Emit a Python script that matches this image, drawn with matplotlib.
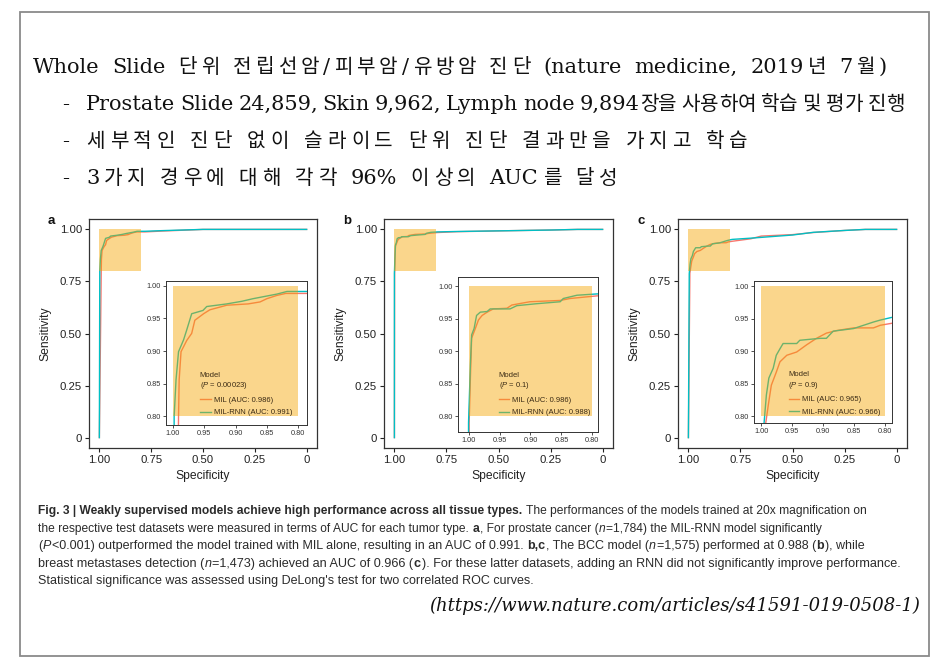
import matplotlib
matplotlib.use("Agg")
import matplotlib.pyplot as plt
from matplotlib.patches import Rectangle
from matplotlib.lines import Line2D
from matplotlib.colors import to_rgb

# =============== DATA ===============
TITLE = "Whole Slide 단위 전립선암/피부암/유방암 진단 (nature medicine, 2019년 7월)"
BULLETS = [
    "Prostate Slide 24,859, Skin 9,962, Lymph node 9,894장을 사용하여 학습 및 평가 진행",
    "세부적인 진단 없이 슬라이드 단위 진단 결과만을 가지고 학습",
    "3가지 경우에 대해 각각 96% 이상의 AUC를 달성",
]
URL = "(https://www.nature.com/articles/s41591-019-0508-1)"

PANELS = ["a", "b", "c"]
MODELS = ["MIL", "MIL-RNN"]
P_VALUES = ["0.00023", "0.1", "0.9"]
AUC_MIL = ["0.986", "0.986", "0.965"]
AUC_RNN = ["0.991", "0.988", "0.966"]

MAIN_TICKS = [1.0, 0.75, 0.5, 0.25, 0.0]
MAIN_TICKLABELS = ["1.00", "0.75", "0.50", "0.25", "0"]
INSET_TICKS = [1.0, 0.95, 0.9, 0.85, 0.8]
INSET_TICKLABELS = ["1.00", "0.95", "0.90", "0.85", "0.80"]

# ROC curves (specificity, sensitivity)
A_MIL_SPEC = [1.000, 0.991, 0.990, 0.987, 0.978, 0.970, 0.965, 0.951, 0.941, 0.914, 0.880, 0.861, 0.850, 0.834, 0.820, 0.780, 0.700, 0.600, 0.500, 0.000]
A_MIL_SENS = [0.000, 0.800, 0.856, 0.899, 0.916, 0.927, 0.947, 0.957, 0.963, 0.970, 0.972, 0.975, 0.980, 0.985, 0.988, 0.988, 0.992, 0.996, 1.000, 1.000]
A_RNN_SPEC = [1.000, 0.998, 0.995, 0.991, 0.983, 0.978, 0.970, 0.952, 0.946, 0.914, 0.890, 0.872, 0.834, 0.818, 0.780, 0.700, 0.600, 0.500, 0.000]
A_RNN_SENS = [0.000, 0.800, 0.856, 0.899, 0.917, 0.932, 0.957, 0.962, 0.968, 0.972, 0.976, 0.980, 0.987, 0.991, 0.991, 0.994, 0.997, 1.000, 1.000]

B_MIL_SPEC = [1.000, 0.999, 0.997, 0.995, 0.989, 0.984, 0.978, 0.970, 0.960, 0.938, 0.930, 0.901, 0.852, 0.836, 0.793, 0.700, 0.500, 0.250, 0.120, 0.000]
B_MIL_SENS = [0.000, 0.790, 0.859, 0.920, 0.935, 0.948, 0.955, 0.960, 0.965, 0.966, 0.971, 0.976, 0.978, 0.981, 0.985, 0.989, 0.993, 0.997, 1.000, 1.000]
B_RNN_SPEC = [1.000, 1.000, 0.997, 0.995, 0.991, 0.987, 0.981, 0.970, 0.965, 0.933, 0.922, 0.890, 0.852, 0.847, 0.825, 0.793, 0.700, 0.500, 0.250, 0.120, 0.000]
B_RNN_SENS = [0.000, 0.790, 0.879, 0.925, 0.935, 0.955, 0.960, 0.961, 0.965, 0.965, 0.970, 0.973, 0.976, 0.981, 0.986, 0.988, 0.990, 0.993, 0.997, 1.000, 1.000]

C_MIL_SPEC = [1.000, 0.993, 0.989, 0.984, 0.976, 0.970, 0.959, 0.943, 0.927, 0.911, 0.895, 0.878, 0.851, 0.819, 0.808, 0.790, 0.700, 0.650, 0.500, 0.400, 0.250, 0.150, 0.000]
C_MIL_SENS = [0.000, 0.790, 0.817, 0.848, 0.868, 0.884, 0.894, 0.899, 0.910, 0.920, 0.928, 0.932, 0.936, 0.936, 0.940, 0.943, 0.955, 0.968, 0.975, 0.985, 0.995, 1.000, 1.000]
C_RNN_SPEC = [1.000, 0.996, 0.992, 0.988, 0.981, 0.976, 0.970, 0.965, 0.943, 0.938, 0.905, 0.895, 0.884, 0.851, 0.835, 0.819, 0.808, 0.790, 0.700, 0.500, 0.400, 0.250, 0.150, 0.000]
C_RNN_SENS = [0.000, 0.787, 0.833, 0.859, 0.874, 0.894, 0.904, 0.912, 0.912, 0.917, 0.920, 0.920, 0.931, 0.935, 0.940, 0.945, 0.948, 0.952, 0.958, 0.973, 0.986, 0.995, 1.000, 1.000]

CURVES = [
    (A_MIL_SPEC, A_MIL_SENS, A_RNN_SPEC, A_RNN_SENS),
    (B_MIL_SPEC, B_MIL_SENS, B_RNN_SPEC, B_RNN_SENS),
    (C_MIL_SPEC, C_MIL_SENS, C_RNN_SPEC, C_RNN_SENS),
]

# =============== STYLE / LAYOUT ===============
W, H = 943, 660
MIL_COLOR = "#F8766D"
RNN_COLOR = "#00BFC4"
ZOOM_COLOR = (244 / 255, 164 / 255, 0.0)
ZOOM_ALPHA = 0.45
LATIN_KW = dict(family="DejaVu Serif", fontsize=15, color="#111")
HANGUL_KW = dict(family="Noto Sans CJK KR", fontsize=14.5, color="#111")
SANS = "Liberation Sans"
CAP_FONT = "Liberation Sans"
CAP_SIZE = 8.9
CAP_COLOR = "#2b2b2b"

# pixel boxes (x0, y0, x1, y1) of the plot panels
MAIN_BOX = [(89, 219, 317, 448), (384, 219, 613, 448), (678, 219, 907, 448)]
INSET_BOX = [(166, 281, 307, 425), (458, 277, 598, 432), (754, 281, 892, 423)]
INSET_XLIM = [(1.011, 0.786), (1.017, 0.791), (1.012, 0.789)]
INSET_YLIM = [(0.787, 1.007), (0.776, 1.014), (0.790, 1.008)]
LEGEND_ANCHOR = [(0.24, 0.06), (0.29, 0.10), (0.25, 0.05)]

# header lines: left x, right x, baseline y
HEAD_POS = [(33, 887, 73), (86, 905, 110), (86, 748, 147), (86, 617, 184)]
# caption lines: right end x (start is 38)
CAP_END = [869, 828, 869, 906, 534]

plt.rcParams["mathtext.fontset"] = "custom"
plt.rcParams["mathtext.it"] = "Liberation Sans:italic"
plt.rcParams["mathtext.rm"] = "Liberation Sans"

fig = plt.figure(figsize=(W / 100, H / 100), dpi=100)
fig.patch.set_facecolor("white")
renderer = fig.canvas.get_renderer()


def fx(x):
    return x / W


def fy(y):
    return 1 - y / H


def add_ax(box):
    x0, y0, x1, y1 = box
    return fig.add_axes([fx(x0), fy(y1), (x1 - x0) / W, (y1 - y0) / H])


def blend(c):
    # colour of a line seen through the translucent zoom box
    r = to_rgb(c)
    return tuple((1 - ZOOM_ALPHA) * a + ZOOM_ALPHA * b for a, b in zip(r, ZOOM_COLOR))


def text_width(s, **kw):
    t = fig.text(0, 0, s, **kw)
    w = t.get_window_extent(renderer).width
    t.remove()
    return w


def is_hangul(ch):
    return "\uac00" <= ch <= "\ud7a3"


def split_tokens(word):
    # each hangul syllable on its own, latin runs kept together
    out = []
    for ch in word:
        if is_hangul(ch) or not out or is_hangul(out[-1][0]):
            out.append(ch)
        else:
            out[-1] += ch
    return out


SPACE_W = text_width("x x", **LATIN_KW) - text_width("xx", **LATIN_KW)


def spread_line(x0, x1, yb, text):
    # distributed spacing, like the slide: extra room between syllables and words
    words = [split_tokens(w) for w in text.split(" ")]
    toks = []
    for w in words:
        toks.append([(t, HANGUL_KW if is_hangul(t[0]) else LATIN_KW) for t in w])
    widths = [[text_width(t, **kw) for t, kw in w] for w in toks]
    n_inner = sum(len(w) - 1 for w in toks)
    n_gaps = len(toks) - 1
    natural = sum(sum(w) for w in widths) + n_inner * 1.0 + n_gaps * SPACE_W
    extra = (x1 - x0 - natural) / (n_inner + 2 * n_gaps)
    x = x0
    for w, ws in zip(toks, widths):
        for j, ((t, kw), wd) in enumerate(zip(w, ws)):
            fig.text(fx(x), fy(yb), t, va="baseline", **kw)
            x += wd + (1.0 + extra if j < len(w) - 1 else 0)
        x += SPACE_W + 2 * extra


# slide frame
fig.add_artist(Rectangle((fx(20), fy(656)), (929 - 20) / W, (656 - 12) / H,
                         transform=fig.transFigure, fill=False, ec="#8a8a8a", lw=1.3))

# =============== HEADER TEXT ===============
x0, x1, yb = HEAD_POS[0]
spread_line(x0, x1, yb, TITLE)
for i, line in enumerate(BULLETS):
    x0, x1, yb = HEAD_POS[i + 1]
    fig.text(fx(62), fy(yb), "-", va="baseline", **LATIN_KW)
    spread_line(x0, x1, yb, line)

# =============== ROC PANELS ===============
for k, name in enumerate(PANELS):
    mil_x, mil_y, rnn_x, rnn_y = CURVES[k]

    ax = add_ax(MAIN_BOX[k])
    ax.plot(mil_x, mil_y, color=MIL_COLOR, lw=1.0, zorder=2)
    ax.plot(rnn_x, rnn_y, color=RNN_COLOR, lw=1.0, zorder=2)
    ax.add_patch(Rectangle((0.8, 0.8), 0.2, 0.2, color=ZOOM_COLOR, alpha=ZOOM_ALPHA, lw=0, zorder=3))
    ax.set_xlim(1.05, -0.05)
    ax.set_ylim(-0.05, 1.05)
    ax.set_xticks(MAIN_TICKS, MAIN_TICKLABELS)
    ax.set_yticks(MAIN_TICKS, MAIN_TICKLABELS)
    ax.tick_params(length=3, width=0.8, pad=2, labelsize=8.2, colors="#222")
    for lab in ax.get_xticklabels() + ax.get_yticklabels():
        lab.set_family(SANS)
    for sp in ax.spines.values():
        sp.set_color("#333")
        sp.set_linewidth(0.9)
    ax.set_xlabel("Specificity", family=SANS, fontsize=8.7, color="#222", labelpad=4)
    ax.set_ylabel("Sensitivity", family=SANS, fontsize=8.7, color="#222", labelpad=6)
    fig.text(fx(MAIN_BOX[k][0] - 41), fy(224), name, family=SANS, fontsize=9.5,
             weight="bold", color="#111")

    # zoomed inset
    ins = add_ax(INSET_BOX[k])
    ins.set_zorder(5)
    ins.set_facecolor("white")
    ins.plot(mil_x, mil_y, color=MIL_COLOR, lw=1.0, zorder=2)
    ins.plot(rnn_x, rnn_y, color=RNN_COLOR, lw=1.0, zorder=2)
    ins.add_patch(Rectangle((0.8, 0.8), 0.2, 0.2, color=ZOOM_COLOR, alpha=ZOOM_ALPHA, lw=0, zorder=3))
    ins.set_xlim(*INSET_XLIM[k])
    ins.set_ylim(*INSET_YLIM[k])
    ins.set_xticks(INSET_TICKS, INSET_TICKLABELS)
    ins.set_yticks(INSET_TICKS, INSET_TICKLABELS)
    ins.tick_params(length=2, width=0.6, pad=1.5, labelsize=5.3, colors="#333")
    for lab in ins.get_xticklabels() + ins.get_yticklabels():
        lab.set_family(SANS)
    for sp in ins.spines.values():
        sp.set_color("#333")
        sp.set_linewidth(0.7)

    handles = [Line2D([], [], color=blend(MIL_COLOR), lw=1.0),
               Line2D([], [], color=blend(RNN_COLOR), lw=1.0)]
    labels = [f"{MODELS[0]} (AUC: {AUC_MIL[k]})", f"{MODELS[1]} (AUC: {AUC_RNN[k]})"]
    leg = ins.legend(handles, labels, title=f"Model\n($\\it{{P}}$ = {P_VALUES[k]})",
                     loc="lower left", bbox_to_anchor=LEGEND_ANCHOR[k], frameon=False,
                     borderaxespad=0, borderpad=0, handlelength=1.4, handletextpad=0.4,
                     labelspacing=0.7, alignment="left",
                     prop={"family": SANS, "size": 5.5},
                     title_fontproperties={"family": SANS, "size": 5.5})
    leg.set_zorder(6)
    for t in leg.get_texts():
        t.set_color("#3a2a14")
    leg.get_title().set_color("#3a2a14")

# =============== CAPTION ===============
CAPTION = [
    [("Fig. 3 | Weakly supervised models achieve high performance across all tissue types.", "b"),
     (" The performances of the models trained at 20x magnification on", "n")],
    [("the respective test datasets were measured in terms of AUC for each tumor type. ", "n"),
     ("a", "b"), (", For prostate cancer (", "n"), ("n", "i"),
     ("=1,784) the MIL-RNN model significantly", "n")],
    [("(", "n"), ("P", "i"),
     ("<0.001) outperformed the model trained with MIL alone, resulting in an AUC of 0.991. ", "n"),
     ("b,c", "b"), (", The BCC model (", "n"), ("n", "i"), ("=1,575) performed at 0.988 (", "n"),
     ("b", "b"), ("), while", "n")],
    [("breast metastases detection (", "n"), ("n", "i"), ("=1,473) achieved an AUC of 0.966 (", "n"),
     ("c", "b"), ("). For these latter datasets, adding an RNN did not significantly improve performance.", "n")],
    [("Statistical significance was assessed using DeLong's test for two correlated ROC curves.", "n")],
]


def rich_line(x, y, parts, size):
    base = dict(family=CAP_FONT, fontsize=size, color=CAP_COLOR, va="baseline")
    space_w = text_width("x x", **base) - text_width("xx", **base)
    texts = []
    for s, st in parts:
        kw = dict(base)
        if st == "b":
            kw["weight"] = "bold"
        if st == "i":
            kw["style"] = "italic"
        lead = len(s) - len(s.lstrip(" "))
        trail = len(s) - len(s.rstrip(" "))
        x += lead * space_w
        t = fig.text(fx(x), fy(y), s.strip(" "), **kw)
        texts.append(t)
        x = t.get_window_extent(renderer).x1 + trail * space_w + 0.5
    return texts, x


for i, parts in enumerate(CAPTION):
    yb = 514 + 17.6 * i
    texts, end = rich_line(38, yb, parts, CAP_SIZE)
    # nudge the size so each line ends where it does in the slide
    size = CAP_SIZE * (CAP_END[i] - 38) / (end - 38)
    for t in texts:
        t.remove()
    rich_line(38, yb, parts, size)

fig.text(fx(920), fy(611), URL, family="DejaVu Serif", style="italic", fontsize=13,
         ha="right", va="baseline", color="#111")

fig.savefig("out.png", dpi=100)
